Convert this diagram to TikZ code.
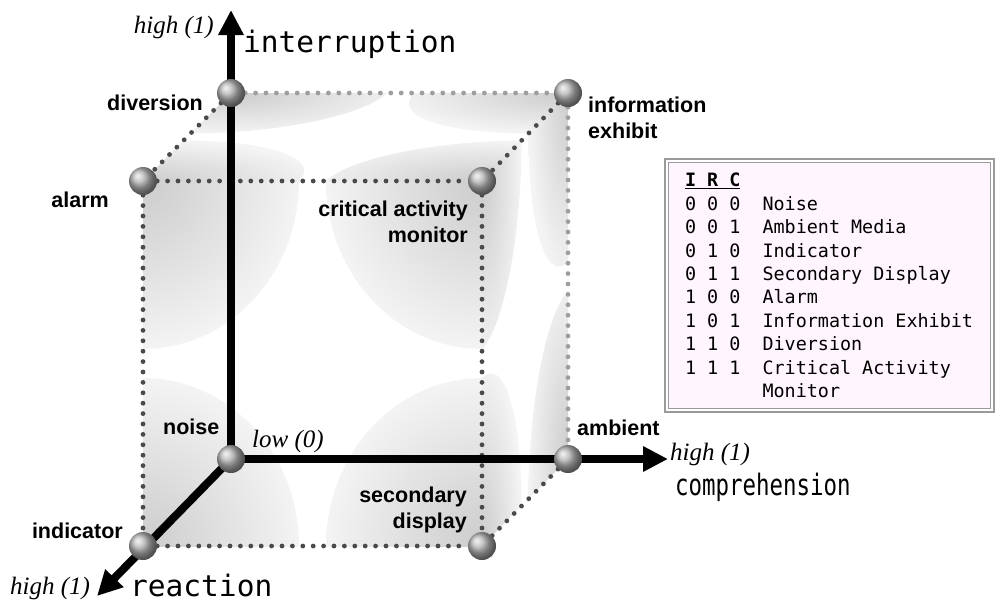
\documentclass[tikz,border=0pt]{standalone}
\usepackage{fontspec}
\setmainfont{Liberation Serif}
\setsansfont{Liberation Sans}
\setmonofont{DejaVu Sans Mono}
\usetikzlibrary{arrows.meta,positioning,backgrounds}
\definecolor{Dots}{HTML}{4A4A4A}
\definecolor{DotsBack}{HTML}{9E9E9E}
\definecolor{Frame}{HTML}{9A9A9A}
\definecolor{Paper}{HTML}{FFF5FE}
\pgfdeclareradialshading{petal}{\pgfpoint{0bp}{0bp}}{color(0bp)=(gray!40); color(25bp)=(gray!9); color(50bp)=(white)}
\tikzset{
 vertex/.style={circle,shading=ball,ball color=gray!58,minimum size=28pt,inner sep=0pt},
 cornertxt/.style={font=\fontsize{21.5}{26}\selectfont\sffamily\bfseries,inner sep=0pt},
 axislabel/.style={font=\fontsize{29.5}{32}\selectfont\ttfamily,inner sep=0pt},
 valtxt/.style={font=\fontsize{25}{28}\selectfont\itshape,inner sep=0pt},
 frontedge/.style={draw=Dots,line width=4.8pt,line cap=round,dash pattern=on 0pt off 10.4pt},
 backedge/.style={frontedge,draw=DotsBack},
 axisline/.style={line width=8pt,-{Triangle[length=25pt,width=24pt]}},
 key/.style={draw=Frame,double=white,double distance=2pt,line width=1.6pt,fill=Paper,
   outer sep=0pt,inner xsep=18.4pt,text width=289pt,align=left,
   minimum width=325.8pt,minimum height=249.8pt,
   font=\fontsize{18.4}{23.4}\selectfont\ttfamily}
}
\newcommand\gap{\hspace*{0.6021em}}
% grey corner shading of one face: #1 = corner, #2 / #3 = edge vectors
\newcommand\shadeface[3]{%
 \begin{scope}[shift={#1},x={#2},y={#3}]
  \clip (0,0)--(100,0)--(100,100)--(0,100)--cycle;
  \foreach \cx/\cy in {0/0,100/0,0/100,100/100}
   \shade[shading=petal] (\cx,\cy) circle (46);
 \end{scope}}

\begin{document}
\begin{tikzpicture}[x=1pt,y=-1pt]
\useasboundingbox (0,0) rectangle (995,603);
% corners of the cube
\node[vertex] (noise) at (231,459) {};
\node[vertex] (ambient) at (568,459) {};
\node[vertex] (indicator) at (143,546) {};
\node[vertex] (secondary) at (482,546) {};
\node[vertex] (alarm) at (143,181) {};
\node[vertex] (cam) at (482,181) {};
\node[vertex] (infoex) at (568,93) {};
\node[vertex] (diversion) at (231,93) {};
\coordinate (itop) at (231,10);
\coordinate (ctop) at (668,459);
\coordinate (rtop) at (97,596);
\begin{pgfonlayer}{background}
\fill[white] (0,0) rectangle (995,603);
% faces
\shadeface{(143,546)}{(3.39pt,0pt)}{(0pt,3.65pt)}
\shadeface{(143,181)}{(3.39pt,0pt)}{(0.88pt,0.88pt)}
\shadeface{(482,546)}{(0.86pt,0.87pt)}{(0pt,3.65pt)}
% edges
\draw[backedge] (diversion)--(infoex);
\draw[backedge] (infoex)--(ambient);
\draw[frontedge] (alarm)--(cam);
\draw[frontedge] (alarm)--(indicator);
\draw[frontedge] (indicator)--(secondary);
\draw[frontedge] (cam)--(secondary);
\draw[frontedge] (diversion)--(alarm);
\draw[frontedge] (infoex)--(cam);
\draw[frontedge] (ambient)--(secondary);
% axes
\draw[axisline] (noise.center)--(itop);
\draw[axisline] (noise.center)--(ctop);
\draw[axisline] (noise.center)--(rtop);
\end{pgfonlayer}
% labels
\node[cornertxt,anchor=base east] (tdiv) at (203,110) {diversion};
\node[cornertxt,anchor=base east] (talarm) at (109,207) {alarm};
\node[cornertxt,anchor=base east,align=right] (tcam) at (468,242) {critical activity\\monitor};
\node[cornertxt,anchor=base west,align=left] (tinfo) at (588,138) {information\\exhibit};
\node[cornertxt,anchor=base west] (tamb) at (577,435) {ambient};
\node[cornertxt,anchor=base west] (tnoise) at (163,434) {noise};
\node[cornertxt,anchor=base east,align=right] (tsec) at (467,528) {secondary\\display};
\node[cornertxt,anchor=base east] (tind) at (123,538) {indicator};
\node[valtxt,anchor=base east] (ihigh) at (214,33) {high (1)};
\node[valtxt,anchor=base west] (low) at (252,447) {low (0)};
\node[valtxt,anchor=base west] (chigh) at (670,460) {high (1)};
\node[valtxt,anchor=base west] (rhigh) at (10,594) {high (1)};
\node[axislabel,anchor=base west] (iname) at (243,52) {interruption};
\node[axislabel,anchor=base west] (rname) at (130,596) {reaction};
\node[axislabel,anchor=base west] (cname) at (675,495) {\scalebox{0.76}[1]{comprehension}};
% legend
\node[key,anchor=north west] (legend) at (666.6,160.6) {%
\textbf{\underline{I\gap R\gap C}}\\
0\gap0\gap0\gap\gap Noise\\
0\gap0\gap1\gap\gap Ambient\gap Media\\
0\gap1\gap0\gap\gap Indicator\\
0\gap1\gap1\gap\gap Secondary\gap Display\\
1\gap0\gap0\gap\gap Alarm\\
1\gap0\gap1\gap\gap Information\gap Exhibit\\
1\gap1\gap0\gap\gap Diversion\\
1\gap1\gap1\gap\gap Critical\gap Activity\\
\hphantom{1\gap1\gap1\gap\gap}Monitor};
\end{tikzpicture}
\end{document}
